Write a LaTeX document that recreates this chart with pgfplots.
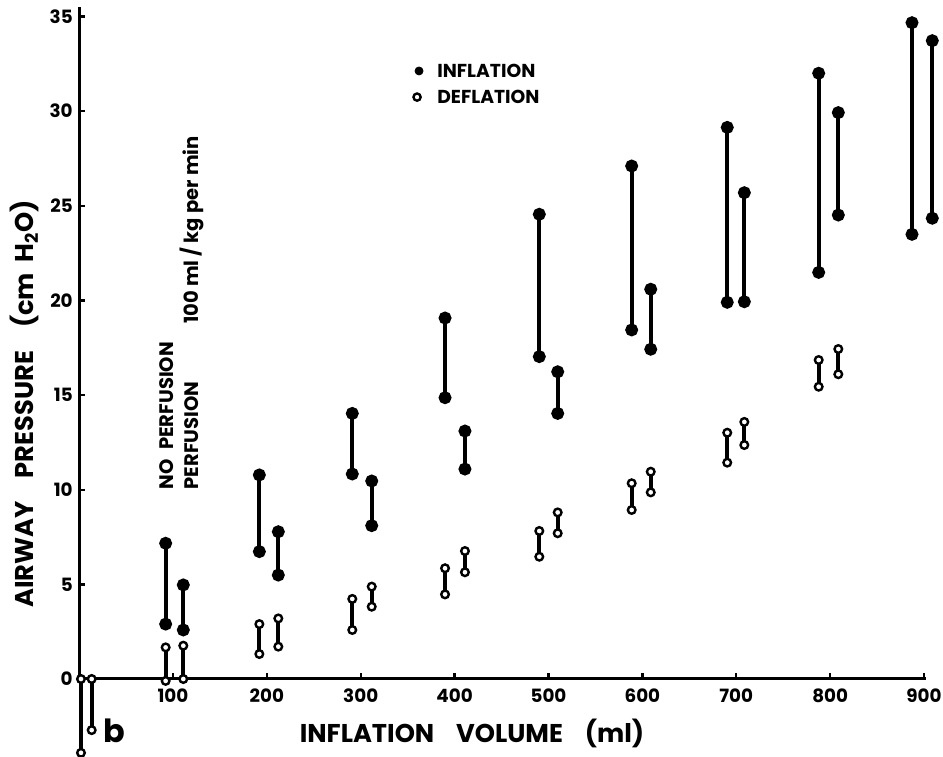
\documentclass[border=0pt]{standalone}
\usepackage{fontspec}
\setmainfont{Poppins}
\usepackage{pgfplots}
\pgfplotsset{compat=1.18}

\begin{document}
\begin{tikzpicture}
\useasboundingbox (-39.55bp,-39bp) rectangle (431.95bp,339.5bp);
\begin{axis}[
  at={(0,0)}, anchor=south west,
  scale only axis, width=423.4bp, height=336bp,
  xmin=0, xmax=902, ymin=0, ymax=35.5,
  axis x line=bottom, axis y line=left,
  axis line style={-, line width=1.5bp},
  clip=false,
  xtick={100,200,...,900}, ytick={0,5,...,35},
  tick align=inside, major tick length=3bp,
  tick style={line width=1.2bp, black},
  /pgf/number format/assume math mode=true,
  every tick label/.append style={font=\bfseries\fontsize{9.2}{10}\selectfont, inner sep=0pt},
  xticklabel style={anchor=north, yshift=-4.5bp},
  yticklabel style={anchor=east, xshift=-3bp},
  unbounded coords=jump,
  infl/.style={black, line width=2bp, mark=*, mark size=2.2bp},
  defl/.style={black, line width=2bp, mark=*, mark size=1.9bp,
    mark options={fill=white, draw=black, line width=1.2bp}},
]
% inflation (filled)
\addplot[infl] coordinates {
(92.2,7.17) (92.2,2.9) (92.2,nan)
(111,4.97) (111,2.59) (111,nan)
(192,10.78) (192,6.73) (192,nan)
(212.2,7.78) (212.2,5.49) (212.2,nan)
(291,14.03) (291,10.83) (291,nan)
(311.7,10.46) (311.7,8.1) (311.7,nan)
(389.8,19.07) (389.8,14.86) (389.8,nan)
(411,13.1) (411,11.09) (411,nan)
(490.2,24.55) (490.2,17.03) (490.2,nan)
(509.8,16.23) (509.8,14.03) (509.8,nan)
(588.6,27.1) (588.6,18.44) (588.6,nan)
(608.9,20.59) (608.9,17.42) (608.9,nan)
(690.4,29.14) (690.4,19.9) (690.4,nan)
(708.6,25.69) (708.6,19.93) (708.6,nan)
(787.8,32.0) (787.8,21.48) (787.8,nan)
(808.7,29.92) (808.7,24.51) (808.7,nan)
(887.2,34.67) (887.2,23.49) (887.2,nan)
(908.8,33.72) (908.8,24.34)
};
% deflation (open)
\addplot[defl] coordinates {
(2,0) (2,-3.9) (2,nan)
(13.4,0) (13.4,-2.7) (13.4,nan)
(92.2,1.67) (92.2,-0.1) (92.2,nan)
(111,1.76) (111,0) (111,nan)
(192,2.9) (192,1.32) (192,nan)
(212.2,3.2) (212.2,1.71) (212.2,nan)
(291,4.23) (291,2.59) (291,nan)
(311.7,4.88) (311.7,3.82) (311.7,nan)
(389.8,5.85) (389.8,4.47) (389.8,nan)
(411,6.76) (411,5.64) (411,nan)
(490.2,7.82) (490.2,6.46) (490.2,nan)
(509.8,8.8) (509.8,7.7) (509.8,nan)
(588.6,10.34) (588.6,8.93) (588.6,nan)
(608.9,10.95) (608.9,9.86) (608.9,nan)
(690.4,13.01) (690.4,11.43) (690.4,nan)
(708.6,13.58) (708.6,12.36) (708.6,nan)
(787.8,16.85) (787.8,15.44) (787.8,nan)
(808.7,17.43) (808.7,16.1)
};

% key
\addplot[only marks, black, mark=*, mark size=2bp] coordinates {(362.1,32.12)};
\addplot[only marks, black, mark=*, mark size=1.8bp,
  mark options={fill=white, draw=black, line width=1.2bp}] coordinates {(360,30.74)};
\node[font=\bfseries\fontsize{9.4}{11}\selectfont, anchor=west, inner sep=0pt]
  at (axis cs:381.2,32.12) {INFLATION};
\node[font=\bfseries\fontsize{9.4}{11}\selectfont, anchor=west, inner sep=0pt]
  at (axis cs:381.2,30.74) {DEFLATION};

% axis titles
\node[font=\bfseries\fontsize{12.9}{14}\selectfont, anchor=base, inner sep=0pt]
  at (axis cs:418.5,-3.38) {INFLATION\hspace{0.85em}VOLUME\hspace{0.85em}(ml)};
\node[font=\bfseries\fontsize{12.9}{14}\selectfont, anchor=base, rotate=90, inner sep=0pt]
  at (axis cs:-49.1,14.53) {AIRWAY\hspace{0.9em}PRESSURE\hspace{0.9em}(cm\hspace{0.4em}H\textsubscript{2}O)};
\node[font=\bfseries\fontsize{16}{18}\selectfont, anchor=base, inner sep=0pt]
  at (axis cs:38,-3.38) {b};

% annotations
\node[font=\bfseries\fontsize{9.8}{11}\selectfont, rotate=90, anchor=west, inner sep=0pt]
  at (axis cs:93.6,9.98) {NO\hspace{0.5em}PERFUSION};
\node[font=\bfseries\fontsize{9.8}{11}\selectfont, rotate=90, anchor=west, inner sep=0pt]
  at (axis cs:120,10.0) {PERFUSION};
\node[font=\bfseries\fontsize{9.8}{11}\selectfont, rotate=90, anchor=west, inner sep=0pt]
  at (axis cs:120,18.75) {100 ml / kg per min};
\end{axis}
\end{tikzpicture}
\end{document}
